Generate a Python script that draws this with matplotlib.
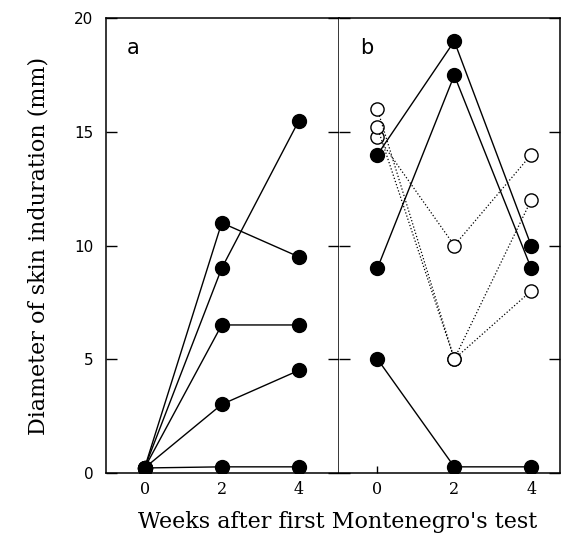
import numpy as np
import matplotlib.pyplot as plt

weeks = [0, 2, 4]

# panel a, filled circles (mm)
a_series = [
    [0.2, 11.0, 9.5],
    [0.2, 9.0, 15.5],
    [0.2, 6.5, 6.5],
    [0.2, 3.0, 4.5],
    [0.2, 0.25, 0.25],
]

# panel b, filled circles
b_filled = [
    [14.0, 19.0, 10.0],
    [9.0, 17.5, 9.0],
    [5.0, 0.25, 0.25],
]

# panel b, open circles (dotted)
b_open = [
    [14.8, 10.0, 14.0],
    [15.2, 5.0, 12.0],
    [16.0, 5.0, 8.0],
]

fig = plt.figure(figsize=(5.62, 5.44), dpi=100)
ax_a = fig.add_axes([0.1886, 0.1314, 0.4146, 0.8346])
ax_b = fig.add_axes([0.6032, 0.1314, 0.3932, 0.8346])

for s in a_series:
    ax_a.plot(weeks, s, '-', color='black', lw=1.0, marker='o', ms=10,
              mfc='black', mec='black', zorder=3)

for s in b_open:
    ax_b.plot(weeks, s, ':', color='black', lw=0.9, marker='o', ms=9.5,
              mfc='white', mec='black', mew=1.0, zorder=2)
for s in b_filled:
    ax_b.plot(weeks, s, '-', color='black', lw=1.0, marker='o', ms=10,
              mfc='black', mec='black', zorder=3)

ax_a.set_xlim(-1, 5.04)
ax_b.set_xlim(-1, 4.75)
for ax in (ax_a, ax_b):
    ax.set_ylim(0, 20)
    ax.set_yticks([0, 5, 10, 15, 20])
    ax.set_xticks(weeks)
    ax.set_xticklabels(['0', '2', '4'], family='DejaVu Serif', fontsize=11.5)
    for sp in ax.spines.values():
        sp.set_linewidth(1.1)
    ax.tick_params(axis='x', direction='in', length=5, width=1, pad=6)
    ax.tick_params(axis='y', direction='in', length=8, width=1,
                   left=True, right=True)

ax_a.set_yticklabels(['0', '5', '10', '15', '20'], fontsize=11)
ax_a.tick_params(axis='y', pad=9)
ax_b.set_yticklabels([])
ax_b.spines['left'].set_visible(False)

ax_a.text(-0.45, 18.7, 'a', fontsize=15, va='center')
ax_b.text(-0.45, 18.7, 'b', fontsize=15, va='center')

ax_a.set_ylabel('Diameter of skin induration (mm)', family='DejaVu Serif',
                fontsize=16, labelpad=18)
fig.text(0.6, 0.03, "Weeks after first Montenegro's test",
         family='DejaVu Serif', fontsize=16, ha='center')

fig.savefig('out.png', dpi=100)
